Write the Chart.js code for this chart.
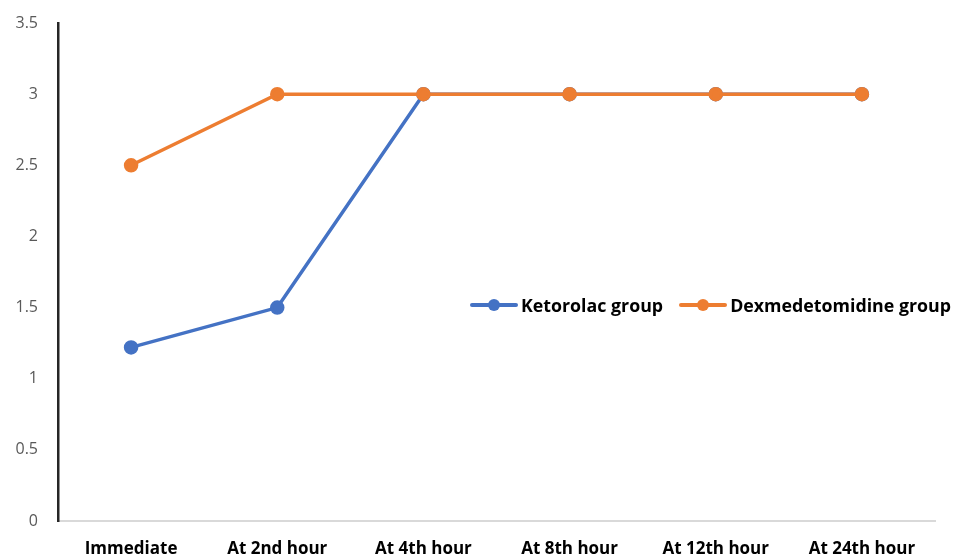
<!DOCTYPE html>
<html>
<head>
<meta charset="utf-8">
<script src="https://cdn.jsdelivr.net/npm/chart.js@4"></script>
<style>
    body { margin: 0; background: #fff; }
    #wrap { position: relative; width: 954px; height: 556px; }
    #legend {
        position: absolute; left: 470px; top: 293px;
        font: bold 17.8px "Open Sans", "Liberation Sans", sans-serif; color: #000;
        display: flex; align-items: center; white-space: nowrap;
    }
    .item { display: flex; align-items: center; margin-right: 16px; }
    .swatch { position: relative; width: 48px; height: 24px; margin-right: 3px; }
    .swatch .ln { position: absolute; left: 0; right: 0; top: 10px; height: 4px; border-radius: 2px; }
    .swatch .dot { position: absolute; left: 18px; top: 6px; width: 12px; height: 12px; border-radius: 50%; }
</style>
</head>
<body>
<div id="wrap">
    <canvas id="chart" width="954" height="556"></canvas>
    <div id="legend"></div>
</div>
<script>
const categories = ['Immediate', 'At 2nd hour', 'At 4th hour', 'At 8th hour', 'At 12th hour', 'At 24th hour'];
const ketorolac = [1.22, 1.5, 3, 3, 3, 3];
const dexmedetomidine = [2.5, 3, 3, 3, 3, 3];
const seriesNames = ['Ketorolac group', 'Dexmedetomidine group'];
const seriesColors = ['#4472C4', '#ED7D31'];

const legend = document.getElementById('legend');
seriesNames.forEach((name, i) => {
    legend.innerHTML += `
        <div class="item">
            <div class="swatch"><div class="ln" style="background:${seriesColors[i]}"></div><div class="dot" style="background:${seriesColors[i]}"></div></div>
            <span>${name}</span>
        </div>`;
});

const font = '"Open Sans", "Liberation Sans", sans-serif';

new Chart(document.getElementById('chart'), {
    type: 'line',
    data: {
        labels: categories,
        datasets: [
            {
                label: seriesNames[0], data: ketorolac, order: 1,
                borderColor: seriesColors[0], backgroundColor: seriesColors[0],
                borderWidth: 3.5, pointRadius: 5.5, pointHoverRadius: 5.5, tension: 0
            },
            {
                label: seriesNames[1], data: dexmedetomidine, order: 0,
                borderColor: seriesColors[1], backgroundColor: seriesColors[1],
                borderWidth: 3.5, pointRadius: 5.5, pointHoverRadius: 5.5, tension: 0
            }
        ]
    },
    options: {
        responsive: false,
        animation: false,
        layout: { padding: { top: 23, right: 19, left: 0, bottom: 0 } },
        plugins: { legend: { display: false }, tooltip: { enabled: false } },
        scales: {
            x: {
                offset: true,
                grid: { display: false, drawTicks: false },
                border: { color: '#d9d9d9', width: 2 },
                ticks: { color: '#000', font: { family: font, size: 17, weight: 'bold' }, padding: 18, maxRotation: 0 },
                afterFit: s => { s.height = 35; }
            },
            y: {
                min: 0, max: 3.5,
                grid: { display: false, drawTicks: false },
                border: { color: '#262626', width: 2.5 },
                ticks: {
                    stepSize: 0.5, color: '#595959', font: { family: font, size: 16 }, padding: 20,
                    callback: v => String(v)
                },
                afterFit: s => { s.width = 58; s.paddingTop = 0; s.paddingBottom = 0; }
            }
        }
    }
});
</script>
</body>
</html>
